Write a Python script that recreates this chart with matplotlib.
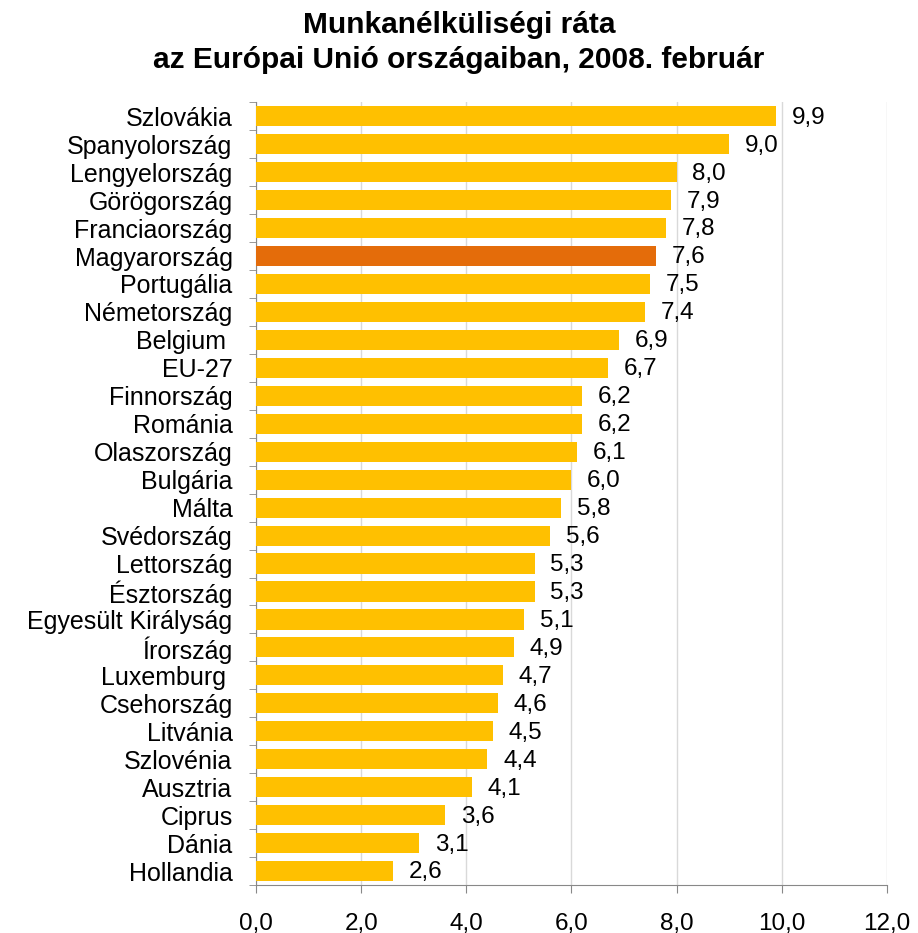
import matplotlib.pyplot as plt
import numpy as np

plt.rcParams['font.family'] = ['Liberation Sans', 'DejaVu Sans']

countries = ['Szlovákia', 'Spanyolország', 'Lengyelország', 'Görögország', 'Franciaország',
             'Magyarország', 'Portugália', 'Németország', 'Belgium ', 'EU-27',
             'Finnország', 'Románia', 'Olaszország', 'Bulgária', 'Málta',
             'Svédország', 'Lettország', 'Észtország', 'Egyesült Királyság', 'Írország',
             'Luxemburg ', 'Csehország', 'Litvánia', 'Szlovénia', 'Ausztria',
             'Ciprus', 'Dánia', 'Hollandia']
rates = [9.9, 9.0, 8.0, 7.9, 7.8, 7.6, 7.5, 7.4, 6.9, 6.7,
         6.2, 6.2, 6.1, 6.0, 5.8, 5.6, 5.3, 5.3, 5.1, 4.9,
         4.7, 4.6, 4.5, 4.4, 4.1, 3.6, 3.1, 2.6]
highlight = 'Magyarország'
xticks = [0, 2, 4, 6, 8, 10, 12]

fig = plt.figure(figsize=(9.18, 9.33), dpi=100)
ax = fig.add_axes([0.279, 0.0514, 0.687, 0.839])

y = np.arange(len(countries))
colors = ['#E46C0A' if c == highlight else '#FFC000' for c in countries]
ax.barh(y, rates, height=0.72, color=colors, zorder=3)

for yi, v in zip(y, rates):
    ax.text(v + 0.3, yi + 0.05, f'{v:.1f}'.replace('.', ','), va='center', ha='left',
            fontsize=17.5, zorder=4)

ax.set_ylim(len(countries) - 0.5, -0.5)
ax.set_xlim(0, 12)
ax.set_yticks(y)
ax.set_yticklabels(countries, fontsize=18)
ax.set_yticks(np.arange(len(countries) + 1) - 0.5, minor=True)
ax.tick_params(axis='y', which='major', length=0, pad=17)
ax.tick_params(axis='y', which='minor', length=5, color='#888888')

ax.set_xticks(xticks)
ax.set_xticklabels([f'{t:.1f}'.replace('.', ',') for t in xticks], fontsize=17.5)
ax.tick_params(axis='x', length=6, color='#888888', pad=14)
ax.grid(axis='x', color='#D9D9D9', linewidth=1, zorder=0)

for s in ['top', 'right']:
    ax.spines[s].set_visible(False)
for s in ['left', 'bottom']:
    ax.spines[s].set_color('#888888')

fig.text(0.5, 0.988, 'Munkanélküliségi ráta\naz Európai Unió országaiban, 2008. február',
         ha='center', va='top', fontsize=21.5, fontweight='bold', linespacing=1.3)

plt.savefig('out.png')
